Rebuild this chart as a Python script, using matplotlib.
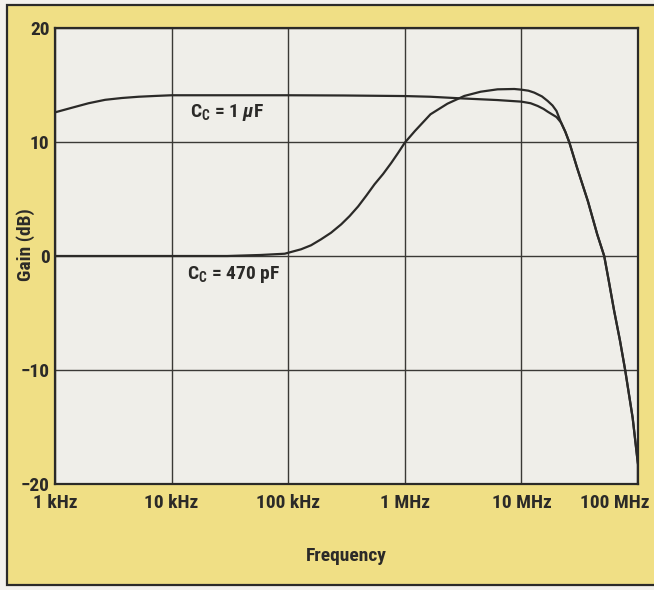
import matplotlib
matplotlib.use("Agg")
import matplotlib.pyplot as plt
from matplotlib.patches import Rectangle
import matplotlib.transforms as mtransforms

FONT = ['Roboto Condensed', 'Roboto', 'DejaVu Sans']
plt.rcParams['font.family'] = FONT
plt.rcParams['font.weight'] = 'bold'
plt.rcParams['mathtext.fontset'] = 'custom'
plt.rcParams['mathtext.rm'] = 'Roboto Condensed:bold'
plt.rcParams['mathtext.it'] = 'Roboto Condensed:italic:bold'
plt.rcParams['mathtext.bf'] = 'Roboto Condensed:bold'

# ---- data (frequency in Hz, gain in dB) ----
freq_1uF = [1e3, 1.39e3, 1.94e3, 2.69e3, 3.75e3, 5.21e3, 7.24e3, 1e4, 3e4, 1e5, 3e5,
            1e6, 1.66e6, 3.0e6, 6.2e6, 1e7, 1.2e7, 1.38e7, 1.55e7, 1.68e7, 2.0e7, 2.19e7,
            2.38e7, 2.57e7, 3.0e7, 3.72e7, 4.47e7, 5.13e7, 5.62e7, 6.24e7, 7.0e7, 7.76e7,
            9.0e7, 1e8, 1e8]
gain_1uF = [12.6, 13.0, 13.4, 13.7, 13.86, 13.97, 14.04, 14.1, 14.1, 14.1, 14.08,
            14.03, 13.97, 13.83, 13.68, 13.54, 13.4, 13.16, 12.9, 12.66, 12.19, 11.7,
            10.9, 10.0, 7.75, 4.8, 1.9, 0.0, -2.2, -4.8, -7.4, -10.0,
            -14.2, -18.3, -20.0]

freq_470pF = [1e3, 1e4, 3e4, 5.83e4, 9.33e4, 1.29e5, 1.57e5, 1.91e5, 2.33e5, 2.85e5,
              3.36e5, 3.98e5, 4.68e5, 5.5e5, 6.52e5, 7.67e5, 8.77e5, 1e6, 1.22e6,
              1.66e6, 2.32e6, 3.24e6, 4.47e6, 6.24e6, 8.7e6, 1e7, 1.15e7, 1.29e7, 1.5e7,
              1.68e7, 1.85e7, 2.0e7, 2.19e7,
              2.38e7, 2.57e7, 3.0e7, 3.72e7, 4.47e7, 5.13e7, 5.62e7, 6.24e7, 7.0e7, 7.76e7,
              9.0e7, 1e8, 1e8]
gain_470pF = [0.0, 0.0, 0.0, 0.09, 0.2, 0.59, 0.94, 1.46, 2.04, 2.78,
              3.5, 4.35, 5.3, 6.29, 7.2, 8.18, 9.05, 9.94, 10.96,
              12.43, 13.36, 14.04, 14.41, 14.62, 14.65, 14.59, 14.5, 14.33, 14.0,
              13.6, 13.2, 12.72, 11.7,
              10.9, 10.0, 7.75, 4.8, 1.9, 0.0, -2.2, -4.8, -7.4, -10.0,
              -14.2, -18.3, -20.0]

x_ticks = [1e3, 1e4, 1e5, 1e6, 1e7, 1e8]
x_tick_labels = ['1 kHz', '10 kHz', '100 kHz', '1 MHz', '10 MHz', '100 MHz']
y_ticks = [-20, -10, 0, 10, 20]
y_tick_labels = ['\u221220', '\u221210', '0', '10', '20']

label_1uF = r'$\mathrm{C_C}$ = 1 $\mu$F'
label_470pF = r'$\mathrm{C_C}$ = 470 pF'

# ---- figure ----
W, H = 654, 590
fig = plt.figure(figsize=(W / 100, H / 100), dpi=100)
fig.patch.set_facecolor('#f3f1ec')

YELLOW = '#f0df85'
DARK = '#2b2a28'
fig.patches.append(Rectangle((7 / W, 5 / H), 1.05, (585 - 5) / H, transform=fig.transFigure,
                             facecolor=YELLOW, edgecolor=DARK, linewidth=1.6, zorder=-5))

ax = fig.add_axes([55 / W, (H - 484) / H, (638 - 55) / W, (484 - 28) / H])
ax.set_zorder(2)
ax.set_facecolor('#efeee9')
ax.set_xscale('log')
ax.set_xlim(1e3, 1e8)
ax.set_ylim(-20, 20)

ax.plot(freq_1uF, gain_1uF, color=DARK, lw=1.6, zorder=3, solid_capstyle='round',
        solid_joinstyle='round')
ax.plot(freq_470pF, gain_470pF, color=DARK, lw=1.6, zorder=3, solid_capstyle='round',
        solid_joinstyle='round')

ax.set_xticks(x_ticks)
ax.set_xticklabels(x_tick_labels)
ax.minorticks_off()
ax.set_yticks(y_ticks)
ax.set_yticklabels(y_tick_labels)
ax.tick_params(axis='both', length=0, labelsize=14, colors=DARK)
ax.tick_params(axis='x', pad=7)
ax.tick_params(axis='y', pad=4)
ax.grid(True, color='#3a3936', lw=1.0)
ax.set_axisbelow(True)
for s in ax.spines.values():
    s.set_color(DARK)
    s.set_linewidth(1.6)

labels = ax.get_xticklabels()
labels[-1].set_ha('right')
off = mtransforms.ScaledTranslation(12 / 100, 0, fig.dpi_scale_trans)
labels[-1].set_transform(labels[-1].get_transform() + off)

ax.set_xlabel('Frequency', fontsize=14, color=DARK, fontweight='bold')
ax.xaxis.set_label_coords(0.5, (484 - 556) / 456)
ax.set_ylabel('Gain (dB)', fontsize=14, color=DARK, fontweight='bold')
ax.yaxis.set_label_coords((26 - 55) / 583, (484 - 245) / 456)
ax.xaxis.label.set_va('center')
ax.yaxis.label.set_va('center')

ax.text(1.45e4, 12.2, label_1uF, fontsize=14, color=DARK, ha='left', va='baseline')
ax.text(1.35e4, -2.0, label_470pF, fontsize=14, color=DARK, ha='left', va='baseline')

fig.savefig('out.png', dpi=100, facecolor=fig.get_facecolor())
